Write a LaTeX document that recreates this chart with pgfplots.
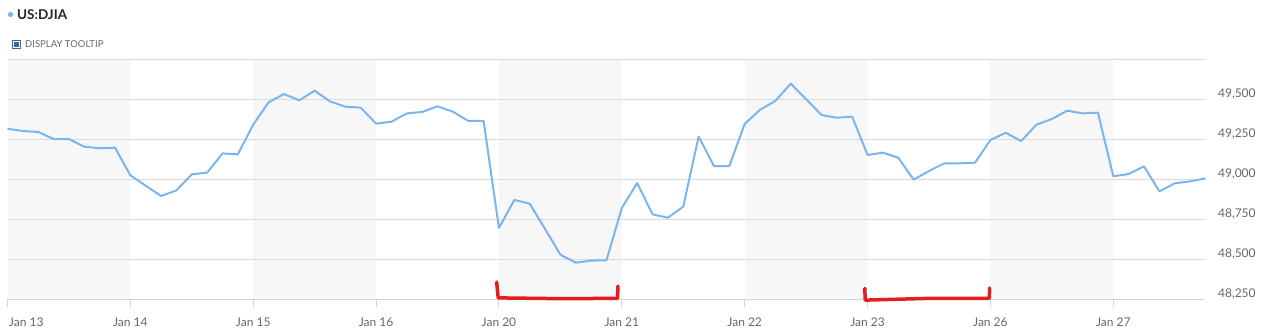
\documentclass[border=0pt]{standalone}
\usepackage{fontspec}
\setmainfont{Lato}
\usepackage{pgfplots}
\pgfplotsset{compat=1.18}
\definecolor{lineblue}{HTML}{7CB5EC}
\definecolor{band}{HTML}{F7F7F7}
\definecolor{gridc}{HTML}{DADADA}
\definecolor{axisc}{HTML}{CCD6EB}
\definecolor{labc}{HTML}{666666}
\definecolor{boxblue}{HTML}{336A96}
\definecolor{annot}{HTML}{E41E1E}
\pgfplotstableread{
i v
0 49314
1 49300
2 49294
3 49250
4 49250
5 49202
6 49192
7 49196
8 49023
9 48958
10 48894
11 48929
12 49029
13 49040
14 49160
15 49154
16 49340
17 49479
18 49531
19 49492
20 49552
21 49485
22 49452
23 49446
24 49346
25 49358
26 49410
27 49419
28 49454
29 49421
30 49363
31 49363
32 48694
33 48869
34 48846
35 48688
36 48527
37 48477
38 48490
39 48492
40 48819
41 48975
42 48779
43 48758
44 48827
45 49265
46 49081
47 49081
48 49344
49 49433
50 49488
51 49596
52 49499
53 49400
54 49383
55 49390
56 49150
57 49165
58 49133
59 48996
60 49050
61 49098
62 49098
63 49102
64 49244
65 49289
66 49237
67 49340
68 49375
69 49427
70 49410
71 49415
72 49017
73 49031
74 49079
75 48923
76 48973
77 48985
78 49004
}\djia
\begin{document}
\begin{tikzpicture}[x=1pt,y=1pt]
\begin{axis}[
  set layers=standard,
  scale only axis, width=1198pt, height=240pt,
  xmin=0, xmax=78, ymin=48250, ymax=49750,
  clip=false,
  scaled y ticks=false,
  axis x line*=bottom, axis y line*=right,
  x axis line style={draw=axisc, line width=1pt, -},
  y axis line style={draw=none},
  tick align=outside, major tick length=8pt,
  xtick style={draw=axisc, line width=1pt},
  ytick style={draw=none},
  xtick={0,8,...,72},
  xticklabels={\makebox[0pt][l]{\hspace{1.5pt}Jan 13},Jan 14,Jan 15,Jan 16,Jan 20,Jan 21,Jan 22,Jan 23,Jan 26,Jan 27},
  ytick={48250,48500,48750,49000,49250,49500,49750},
  yticklabels={{48,250},{48,500},{48,750},{49,000},{49,250},{49,500},{}},
  ymajorgrids, grid style={draw=gridc, line width=1pt},
  xticklabel style={anchor=base, inner sep=0pt, yshift=-19.3pt, font=\fontsize{12}{14}\selectfont, text=labc},
  yticklabel style={anchor=base west, inner sep=0pt, xshift=4.5pt, yshift=1.6pt, font=\fontsize{12}{14}\selectfont, text=labc},
]
\addplot[on layer=axis background, fill=band, draw=none] coordinates {(0,48250)(0,49750)(8,49750)(8,48250)} -- cycle;
\addplot[on layer=axis background, fill=band, draw=none] coordinates {(16,48250)(16,49750)(24,49750)(24,48250)} -- cycle;
\addplot[on layer=axis background, fill=band, draw=none] coordinates {(32,48250)(32,49750)(40,49750)(40,48250)} -- cycle;
\addplot[on layer=axis background, fill=band, draw=none] coordinates {(48,48250)(48,49750)(56,49750)(56,48250)} -- cycle;
\addplot[on layer=axis background, fill=band, draw=none] coordinates {(64,48250)(64,49750)(72,49750)(72,48250)} -- cycle;
\addplot[lineblue, line width=2pt, line join=round, mark=none] table[x=i, y=v] {\djia};
\draw[annot, line width=3.5pt, line cap=round, line join=round]
  (axis cs:31.85,48356) -- (axis cs:31.95,48257) -- (axis cs:36,48252) -- (axis cs:39.72,48254) -- (axis cs:39.75,48331);
\draw[annot, line width=3.5pt, line cap=round, line join=round]
  (axis cs:55.82,48317) -- (axis cs:55.85,48243) -- (axis cs:60,48254) -- (axis cs:63.93,48254) -- (axis cs:63.95,48319);
\coordinate (P) at (rel axis cs:0,0);
\end{axis}
\coordinate (O) at ([shift={(-7.5pt,-28pt)}]P);
\path (O) rectangle ++(1261pt,327pt);
\fill[lineblue] ([shift={(10.5pt,312.5pt)}]O) circle (2.6pt);
\node[anchor=base west, inner sep=0, font=\fontsize{13.5}{15}\selectfont\bfseries, text=black!85] at ([shift={(17pt,307.7pt)}]O) {US:DJIA};
\draw[boxblue, line width=1.1pt] ([shift={(12.6pt,278.6pt)}]O) rectangle ([shift={(20.6pt,286.6pt)}]O);
\fill[boxblue] ([shift={(14.4pt,280.4pt)}]O) rectangle ([shift={(18.8pt,284.8pt)}]O);
\node[anchor=base west, inner sep=0, font=\fontsize{9.5}{11}\selectfont, text=labc] at ([shift={(25pt,279.3pt)}]O) {DISPLAY TOOLTIP};
\end{tikzpicture}
\end{document}
